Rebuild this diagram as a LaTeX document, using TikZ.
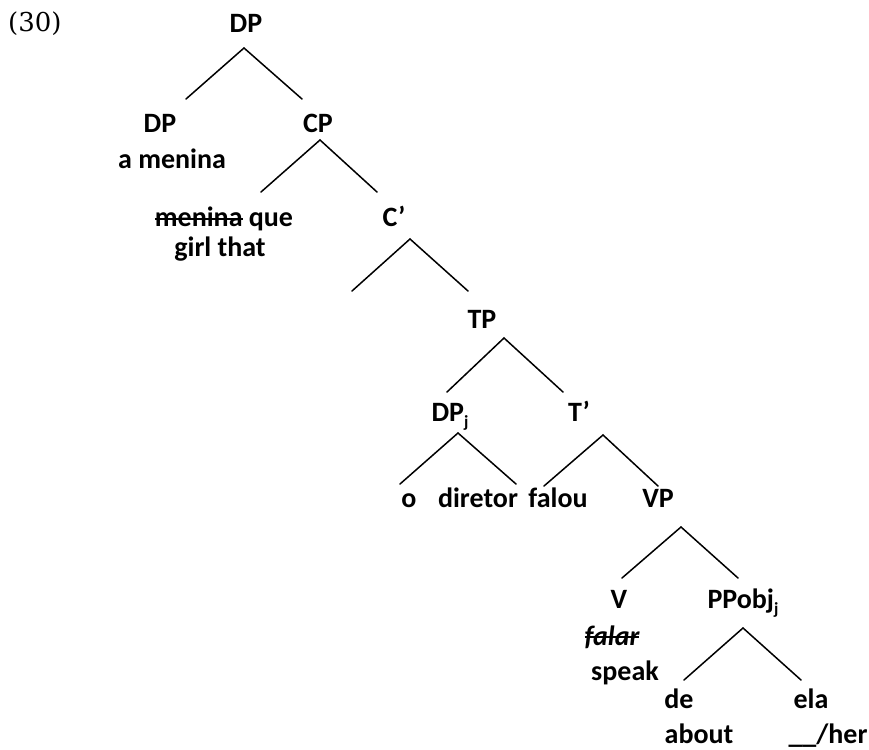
\documentclass[tikz,border=0pt]{standalone}
\usepackage{fontspec}
\setmainfont{Carlito}
\newfontfamily\numfont{DejaVu Serif}
\newsavebox\strkbox
\newcommand\strk[2][0.22em]{\sbox\strkbox{#2}\rlap{\rule[#1]{\wd\strkbox}{1.7pt}}\usebox\strkbox}
\newcommand\subj{\raisebox{-0.22em}{\fontsize{17}{17}\selectfont j}}
\begin{document}
\begin{tikzpicture}[x=1pt,y=-1pt,
  lab/.style={anchor=base,inner sep=0pt,font=\fontsize{28}{34}\selectfont\bfseries},
  br/.style={line width=1.5pt,line cap=round}]
\useasboundingbox[fill=white] (0,0) rectangle (869,749);
% labels
\node[anchor=base west,inner sep=0pt,font=\numfont\fontsize{26}{30}\selectfont] (ex) at (8,32) {(30)};
\node[lab] (dp) at (246,33) {DP};
\node[lab] (dpl) at (160,132) {DP};
\node[lab] (amen) at (172,168) {a menina};
\node[lab] (cp) at (318,132) {CP};
\node[lab] (men) at (224,226) {\strk{menina} que};
\node[lab] (girl) at (220,256) {girl that};
\node[lab] (cbar) at (394,226) {C’};
\node[lab] (tp) at (482,328) {TP};
\node[lab] (dpj) at (450,421) {DP\subj};
\node[lab] (tbar) at (579,421) {T’};
\node[lab] (o) at (409,507) {o};
\node[lab] (dir) at (478,507) {diretor};
\node[lab] (fal) at (558,507) {falou};
\node[lab] (vp) at (658,507) {VP};
\node[lab] (v) at (619,608) {V};
\node[lab] (pp) at (743,608) {PPobj\subj};
\node[lab] (falar) at (612,645) {\strk[0.25em]{\itshape falar}};
\node[lab] (speak) at (625,680) {speak};
\node[lab] (de) at (679,708) {de};
\node[lab] (ela) at (811,708) {ela};
\node[lab] (about) at (699,743) {about};
\node[lab] (her) at (828,743) {\_\_/her};
% branch points
\coordinate (dpA) at (244,48);  \coordinate (dpL) at (186,99);  \coordinate (dpR) at (302,99);
\coordinate (cpA) at (320,140); \coordinate (cpL) at (261,192); \coordinate (cpR) at (377,192);
\coordinate (cbA) at (410,239); \coordinate (cbL) at (352,291); \coordinate (cbR) at (468,291);
\coordinate (tpA) at (504,338); \coordinate (tpL) at (447,392); \coordinate (tpR) at (563,392);
\coordinate (djA) at (458,433); \coordinate (djL) at (400,484); \coordinate (djR) at (516,484);
\coordinate (tbA) at (603,435); \coordinate (tbL) at (544,486); \coordinate (tbR) at (658,486);
\coordinate (vpA) at (681,527); \coordinate (vpL) at (622,578); \coordinate (vpR) at (738,578);
\coordinate (ppA) at (743,628); \coordinate (ppL) at (684,680); \coordinate (ppR) at (801,680);
\foreach \n in {dp,cp,cb,tp,dj,tb,vp,pp}{
  \draw[br] (\n L) -- (\n A) -- (\n R);
}
\end{tikzpicture}
\end{document}
